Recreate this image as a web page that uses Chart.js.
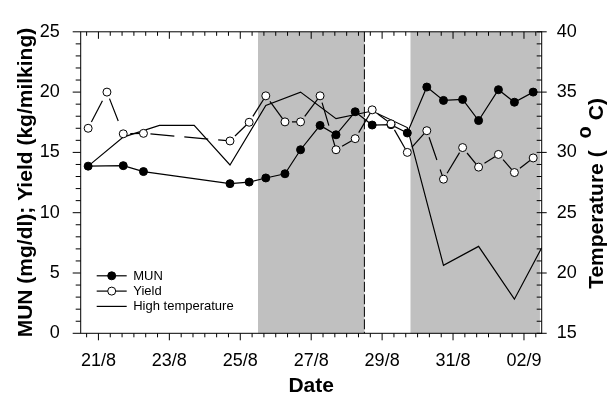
<!DOCTYPE html>
<html><head><meta charset="utf-8">
<script src="https://cdn.jsdelivr.net/npm/chart.js@4.4.1/dist/chart.umd.min.js"></script>
<style>html,body{margin:0;padding:0;background:#fff;}#wrap{width:609px;height:409px;}</style>
</head><body><div id="wrap"><canvas id="c" width="609" height="409"></canvas></div>
<script>
// ---- data (x in days of August; 32 = 01/9, 33 = 02/9) ----
const xTickValues = [21, 23, 25, 27, 29, 31, 33];
const xTickLabels = ['21/8', '23/8', '25/8', '27/8', '29/8', '31/8', '02/9'];
const munTimes = [20.71, 21.70, 22.27, 24.71, 25.25, 25.72, 26.26, 26.70, 27.25, 27.70, 28.24, 28.72, 29.25, 29.71, 30.26, 30.73, 31.27, 31.72, 32.28, 32.73, 33.26];
const munValues = [13.86, 13.9, 13.41, 12.41, 12.54, 12.88, 13.23, 15.22, 17.24, 16.46, 18.37, 17.27, 17.3, 16.61, 20.42, 19.31, 19.39, 17.64, 20.2, 19.16, 20.0];
const yieldTimes = [20.71, 21.24, 21.70, 22.27, 24.71, 25.25, 25.72, 26.26, 26.70, 27.25, 27.70, 28.24, 28.72, 29.25, 29.71, 30.26, 30.73, 31.27, 31.72, 32.28, 32.73, 33.26];
const yieldValues = [17.0, 20.0, 16.54, 16.58, 15.95, 17.5, 19.69, 17.53, 17.53, 19.69, 15.22, 16.14, 18.53, 17.37, 15.0, 16.8, 12.78, 15.4, 13.78, 14.83, 13.33, 14.54];
const tempTimes = [20.71, 21.70, 22.72, 23.70, 24.71, 25.72, 26.70, 27.70, 28.72, 29.71, 30.73, 31.72, 32.73, 33.5];
const tempValues = [28.86, 31.27, 32.24, 32.24, 28.96, 33.9, 35.0, 32.8, 33.43, 32.06, 20.64, 22.21, 17.83, 22.09];
const shadedPeriods = [[25.5, 28.5], [29.8, 33.45]];
const dashedLineTimes = [28.5];
const seriesNames = ['MUN', 'Yield', 'High temperature'];

const FONT = "'Liberation Sans', Arial, Helvetica, sans-serif";
Chart.defaults.font.family = FONT;
Chart.defaults.color = '#000';

const toXY = (xs, ys) => xs.map((x, i) => ({x: x, y: ys[i]}));

const decorPlugin = {
  id: 'decor',
  beforeDatasetsDraw(chart) {
    const {ctx, chartArea: a, scales} = chart;
    const x = scales.x;
    ctx.save();
    ctx.fillStyle = '#c0c0c0';
    shadedPeriods.forEach(([s, e]) => {
      const x0 = x.getPixelForValue(s), x1 = x.getPixelForValue(e);
      ctx.fillRect(x0, a.top, x1 - x0, a.bottom - a.top);
    });
    ctx.strokeStyle = '#000';
    ctx.lineWidth = 1;
    ctx.setLineDash([10, 2.5]);
    dashedLineTimes.forEach(t => {
      const px = x.getPixelForValue(t);
      ctx.beginPath(); ctx.moveTo(px, a.top); ctx.lineTo(px, a.bottom); ctx.stroke();
    });
    ctx.restore();
  },
  afterDatasetsDraw(chart) {
    const {ctx, chartArea: a, scales} = chart;
    const sx = scales.x, sy = scales.y, sy2 = scales.y2;
    ctx.save();
    ctx.strokeStyle = '#000';
    ctx.lineWidth = 1;
    ctx.setLineDash([]);
    ctx.strokeRect(a.left, a.top, a.right - a.left, a.bottom - a.top);
    ctx.beginPath();
    // x ticks every 1/3 day (bottom outward, top inward)
    for (let k = 0; k <= 60; k++) {
      const v = 20 + k / 3;
      if (v < sx.min + 0.01 || v > sx.max - 0.01) continue;
      const major = xTickValues.some(t => Math.abs(t - v) < 0.01);
      const px = sx.getPixelForValue(v);
      const L = major ? 7 : 4;
      ctx.moveTo(px, a.bottom); ctx.lineTo(px, a.bottom + L);
      ctx.moveTo(px, a.top); ctx.lineTo(px, a.top + L);
    }
    // left y ticks (outward)
    for (let v = sy.min; v <= sy.max; v++) {
      const py = sy.getPixelForValue(v);
      const L = v % 5 === 0 ? 8 : 5;
      ctx.moveTo(a.left - L, py); ctx.lineTo(a.left, py);
    }
    // right y ticks (inward, major crossing)
    for (let v = sy2.min; v <= sy2.max; v++) {
      const py = sy2.getPixelForValue(v);
      if (v % 5 === 0) { ctx.moveTo(a.right - 5, py); ctx.lineTo(a.right + 5, py); }
      else { ctx.moveTo(a.right - 5, py); ctx.lineTo(a.right, py); }
    }
    ctx.stroke();

    // legend
    const ds = chart.data.datasets;
    const rows = [ds[1], ds[0], ds[2]];
    const lx = a.left + 16, ly = a.bottom - 57.5, rowH = 15.3;
    ctx.font = '13px ' + FONT;
    ctx.textBaseline = 'middle';
    ctx.textAlign = 'left';
    rows.forEach((d, i) => {
      const y = ly + i * rowH;
      ctx.lineWidth = 1.2;
      ctx.strokeStyle = '#000';
      ctx.beginPath(); ctx.moveTo(lx, y); ctx.lineTo(lx + 30, y); ctx.stroke();
      if (d.pointRadius > 0) {
        ctx.beginPath(); ctx.arc(lx + 15, y, d.pointRadius, 0, Math.PI * 2);
        ctx.fillStyle = d.pointBackgroundColor; ctx.fill();
        ctx.lineWidth = 1; ctx.stroke();
      }
      ctx.fillStyle = '#000';
      ctx.fillText(d.label, lx + 36.5, y + 0.5);
    });

    // right axis title with superscript degree
    ctx.translate(597, 0);
    ctx.rotate(-Math.PI / 2);
    ctx.font = 'bold 21px ' + FONT;
    ctx.textBaseline = 'middle';
    ctx.textAlign = 'left';
    const p1 = 'Temperature (', p2 = 'o', p3 = 'C)';
    const w1 = ctx.measureText(p1).width, w3 = ctx.measureText(p3).width;
    ctx.font = 'bold 20px ' + FONT;
    const w2 = ctx.measureText(p2).width;
    const g1 = 12, g2 = 6;
    const total = w1 + g1 + w2 + g2 + w3;
    let pos = -(98 + total);
    ctx.font = 'bold 21px ' + FONT;
    ctx.fillText(p1, pos, 0); pos += w1 + g1;
    ctx.font = 'bold 20px ' + FONT;
    ctx.fillText(p2, pos, -12); pos += w2 + g2;
    ctx.font = 'bold 21px ' + FONT;
    ctx.fillText(p3, pos, 0);
    ctx.restore();
  }
};

new Chart(document.getElementById('c'), {
  type: 'line',
  data: {
    datasets: [
      {
        label: seriesNames[1], data: toXY(yieldTimes, yieldValues), yAxisID: 'y', order: 0,
        borderColor: '#000', borderWidth: 1.2, borderDash: [24, 10], borderDashOffset: 27,
        pointRadius: 4, pointBackgroundColor: '#fff', pointBorderColor: '#000', pointBorderWidth: 1,
        segment: { borderDashOffset: c => (c.p0DataIndex % 2) ? 27.001 : 27 }
      },
      {
        label: seriesNames[0], data: toXY(munTimes, munValues), yAxisID: 'y', order: 1,
        borderColor: '#000', borderWidth: 1.2,
        pointRadius: 4, pointBackgroundColor: '#000', pointBorderColor: '#000', pointBorderWidth: 1
      },
      {
        label: seriesNames[2], data: toXY(tempTimes, tempValues), yAxisID: 'y2', order: 2,
        borderColor: '#000', borderWidth: 1.2, pointRadius: 0
      }
    ]
  },
  options: {
    responsive: false, animation: false, devicePixelRatio: 1,
    layout: { padding: { top: 15.7, left: 0, right: 0, bottom: 0 } },
    plugins: { legend: { display: false }, tooltip: { enabled: false } },
    elements: { line: { tension: 0, fill: false } },
    scales: {
      x: {
        type: 'linear', position: 'bottom', min: 20.5, max: 33.5,
        grid: { display: false, drawTicks: false }, border: { display: false },
        afterBuildTicks: s => { s.ticks = xTickValues.map(v => ({value: v})); },
        afterFit: s => { s.height = 409 - 333.3; },
        ticks: {
          autoSkip: false, maxRotation: 0, padding: 17, font: { size: 18 }, color: '#000',
          callback: v => xTickLabels[xTickValues.indexOf(v)]
        },
        title: { display: true, text: 'Date', font: { size: 21, weight: 'bold' }, color: '#000', padding: { top: 0, bottom: 10 } }
      },
      y: {
        position: 'left', min: 0, max: 25,
        grid: { display: false, drawTicks: false }, border: { display: false },
        afterFit: s => { s.width = 80.7; },
        ticks: { stepSize: 5, padding: 21, font: { size: 18 }, color: '#000' },
        title: { display: true, text: 'MUN (mg/dl); Yield (kg/milking)', font: { size: 21, weight: 'bold' }, color: '#000', padding: { top: 14, bottom: 0 } }
      },
      y2: {
        position: 'right', min: 15, max: 40,
        grid: { display: false, drawTicks: false }, border: { display: false },
        afterFit: s => { s.width = 609 - 541.7; },
        ticks: { stepSize: 5, padding: 15, font: { size: 18 }, color: '#000' }
      }
    }
  },
  plugins: [decorPlugin]
});
</script>
</body></html>
